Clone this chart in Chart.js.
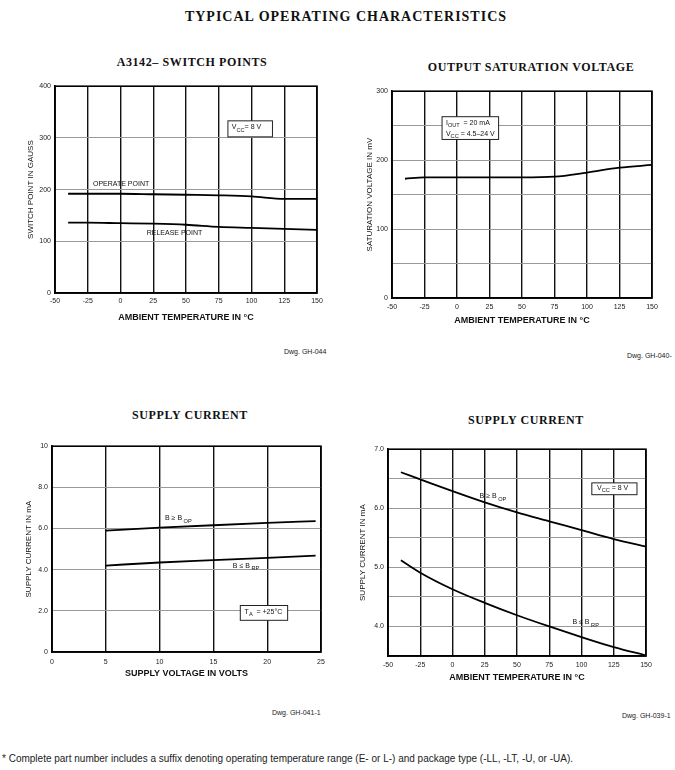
<!DOCTYPE html>
<html>
<head>
<meta charset="utf-8">
<script src="https://cdn.jsdelivr.net/npm/chart.js@4.4.0/dist/chart.umd.min.js"></script>
<style>
body { margin: 0; background: #fff; width: 675px; height: 770px; position: relative; overflow: hidden; font-family: 'Liberation Sans', Arial, sans-serif; }
.t { position: absolute; white-space: nowrap; color: #111; }
.h { font: bold 12px 'Liberation Serif', 'Times New Roman', serif; text-align: center; width: 300px; line-height: 14px; letter-spacing: 0.6px; }
.dwg { font: 7px 'Liberation Sans', Arial, sans-serif; color: #222; }
canvas { position: absolute; }
</style>
</head>
<body>
<div class="t" style="left:0;width:692px;top:9px;text-align:center;font:bold 14px 'Liberation Serif',serif;letter-spacing:1px;line-height:16px">TYPICAL OPERATING CHARACTERISTICS</div>

<div class="t h" style="left:42px;top:55px">A3142– SWITCH POINTS</div>
<div class="t h" style="left:381px;top:60px">OUTPUT SATURATION VOLTAGE</div>
<div class="t h" style="left:40px;top:408px">SUPPLY CURRENT</div>
<div class="t h" style="left:376px;top:413px">SUPPLY CURRENT</div>

<canvas id="c1" width="330" height="252" style="left:0;top:78px"></canvas>
<canvas id="c2" width="330" height="252" style="left:340px;top:83px"></canvas>
<canvas id="c3" width="335" height="252" style="left:0;top:438px"></canvas>
<canvas id="c4" width="320" height="252" style="left:340px;top:441px"></canvas>

<div class="t dwg" style="left:284px;top:348px">Dwg. GH-044</div>
<div class="t dwg" style="left:627px;top:352px">Dwg. GH-040-</div>
<div class="t dwg" style="left:272px;top:709px">Dwg. GH-041-1</div>
<div class="t dwg" style="left:622px;top:712px">Dwg. GH-039-1</div>

<div class="t" style="left:2px;top:753px;font-size:10px;color:#222">* Complete part number includes a suffix denoting operating temperature range (E- or L-) and package type (-LL, -LT, -U, or -UA).</div>

<script>
// Datos leidos de la hoja de datos
// Switch points vs temperatura
const tempSwitch = [-40, -25, 0, 25, 50, 75, 100, 125, 150];
const operatePoint = [192, 192, 192, 191, 190, 189, 187, 182, 182];
const releasePoint = [136, 136, 135, 134, 132, 128, 126, 124, 122];

// Tension de saturacion vs temperatura
const tempSat = [-40, -25, 0, 25, 50, 75, 100, 125, 150];
const satVoltage = [173, 175, 175, 175, 175, 176, 182, 189, 193];

// Corriente vs tension de alimentacion
const supplyVolts = [5, 10, 15, 20, 24.5];
const currentOpVolts = [5.9, 6.04, 6.16, 6.27, 6.36];
const currentRpVolts = [4.2, 4.35, 4.46, 4.57, 4.68];

// Corriente vs temperatura
const tempCurrent = [-40, -25, 0, 25, 50, 75, 100, 125, 150];
const currentOpTemp = [6.61, 6.49, 6.29, 6.1, 5.93, 5.78, 5.63, 5.48, 5.35];
const currentRpTemp = [5.12, 4.91, 4.63, 4.4, 4.19, 4.0, 3.82, 3.65, 3.51];

const TICK_FONT = { family: "'Liberation Sans', Arial, sans-serif", size: 7 };
const TITLE_FONT = { family: "'Liberation Sans', Arial, sans-serif", size: 9, weight: 'bold' };

// Dibuja texto con subindices: partes = [[texto, esSub], ...]
function drawRich(ctx, parts, x, y, size) {
    let cx = x;
    parts.forEach(function (p) {
        const s = p[1] ? size * 0.8 : size;
        ctx.font = s + "px 'Liberation Sans', Arial, sans-serif";
        ctx.fillText(p[0], cx, y + (p[1] ? size * 0.4 : 0));
        cx += ctx.measureText(p[0]).width;
    });
    return cx - x;
}

// Plugin para marco, etiquetas y cajas
function notesPlugin(notes) {
    return {
        id: 'notes',
        afterDraw(chart) {
            const ctx = chart.ctx;
            const a = chart.chartArea;
            const xs = chart.scales.x, ys = chart.scales.y;
            ctx.save();
            ctx.strokeStyle = '#000';
            ctx.lineWidth = 1.6;
            ctx.strokeRect(a.left, a.top, a.right - a.left, a.bottom - a.top);
            ctx.fillStyle = '#111';
            ctx.textBaseline = 'middle';
            notes.forEach(function (n) {
                if (n.box) {
                    const x0 = xs.getPixelForValue(n.box[0]), x1 = xs.getPixelForValue(n.box[1]);
                    const y0 = ys.getPixelForValue(n.box[2]), y1 = ys.getPixelForValue(n.box[3]);
                    ctx.fillStyle = '#fff';
                    ctx.fillRect(x0, y0, x1 - x0, y1 - y0);
                    ctx.strokeStyle = '#222';
                    ctx.lineWidth = 1;
                    ctx.strokeRect(x0, y0, x1 - x0, y1 - y0);
                    ctx.fillStyle = '#111';
                }
                n.lines.forEach(function (l) {
                    drawRich(ctx, l.parts, xs.getPixelForValue(l.x), ys.getPixelForValue(l.y), 7);
                });
            });
            ctx.restore();
        }
    };
}

function serie(xv, yv) {
    return {
        data: xv.map((x, i) => ({ x: x, y: yv[i] })),
        borderColor: '#000',
        borderWidth: 1.8,
        pointRadius: 0,
        cubicInterpolationMode: 'monotone',
        fill: false
    };
}

function crearGrafico(id, o) {
    return new Chart(document.getElementById(id), {
        type: 'line',
        data: { datasets: o.series },
        options: {
            responsive: false,
            animation: false,
            events: [],
            layout: { padding: { top: o.padTop, right: o.padRight, bottom: 0, left: 0 } },
            plugins: { legend: { display: false }, tooltip: { enabled: false } },
            scales: {
                x: {
                    type: 'linear',
                    min: o.xMin, max: o.xMax,
                    afterFit: s => { s.height = o.xh; },
                    grid: { color: '#111', lineWidth: 1.4, drawTicks: false },
                    border: { color: '#000', width: 1.6 },
                    ticks: { stepSize: o.xStep, autoSkip: false, maxRotation: 0, padding: o.xTickPad, color: '#222', font: TICK_FONT },
                    title: { display: true, text: o.xTitle, color: '#111', font: TITLE_FONT, padding: { top: 0, bottom: o.xTitlePad } }
                },
                y: {
                    min: o.yMin, max: o.yMax,
                    afterFit: s => { s.width = o.yw; },
                    grid: { color: '#999', lineWidth: 1, drawTicks: false },
                    border: { color: '#000', width: 1.6 },
                    ticks: { stepSize: o.yStep, autoSkip: false, padding: 4, color: '#222', font: TICK_FONT, callback: o.yLabel },
                    title: { display: true, text: o.yTitle, color: '#111', font: { family: TICK_FONT.family, size: 8 }, padding: { top: o.yTitlePad, bottom: 0 } }
                }
            }
        },
        plugins: [notesPlugin(o.notes)]
    });
}

crearGrafico('c1', {
    series: [serie(tempSwitch, operatePoint), serie(tempSwitch, releasePoint)],
    xMin: -50, xMax: 150, xStep: 25, yMin: 0, yMax: 400, yStep: 100,
    yLabel: v => v,
    padTop: 6, padRight: 13, xh: 37, yw: 55, xTickPad: 4, xTitlePad: 7, yTitlePad: 26,
    xTitle: 'AMBIENT TEMPERATURE IN °C', yTitle: 'SWITCH POINT IN GAUSS',
    notes: [
        { lines: [{ x: -21, y: 211, parts: [['OPERATE POINT', 0]] }] },
        { lines: [{ x: 20, y: 115, parts: [['RELEASE POINT', 0]] }] },
        { box: [82, 116, 333, 302], lines: [{ x: 85, y: 320, parts: [['V', 0], ['CC', 1], ['= 8 V', 0]] }] }
    ]
});

crearGrafico('c2', {
    series: [serie(tempSat, satVoltage)],
    xMin: -50, xMax: 150, xStep: 25, yMin: 0, yMax: 300, yStep: 50,
    yLabel: v => (v % 100 === 0 ? v : ''),
    padTop: 6, padRight: 18, xh: 37, yw: 52, xTickPad: 5, xTitlePad: 9, yTitlePad: 25,
    xTitle: 'AMBIENT TEMPERATURE IN °C', yTitle: 'SATURATION VOLTAGE IN mV',
    notes: [
        { box: [-11.5, 32, 263, 230], lines: [
            { x: -8.5, y: 254, parts: [['I', 0], ['OUT', 1], ['  = 20 mA', 0]] },
            { x: -8.5, y: 238, parts: [['V', 0], ['CC', 1], [' = 4.5–24 V', 0]] }
        ] }
    ]
});

crearGrafico('c3', {
    series: [serie(supplyVolts, currentOpVolts), serie(supplyVolts, currentRpVolts)],
    xMin: 0, xMax: 25, xStep: 5, yMin: 0, yMax: 10, yStep: 2,
    yLabel: v => (v === 0 ? '0' : v === 10 ? '10' : v.toFixed(1)),
    padTop: 6, padRight: 14, xh: 38, yw: 52, xTickPad: 6, xTitlePad: 11, yTitlePad: 24,
    xTitle: 'SUPPLY VOLTAGE IN VOLTS', yTitle: 'SUPPLY CURRENT IN mA',
    notes: [
        { lines: [{ x: 10.5, y: 6.5, parts: [['B ≥ B', 0], [' OP', 1]] }] },
        { lines: [{ x: 16.8, y: 4.18, parts: [['B ≤ B', 0], [' RP', 1]] }] },
        { box: [17.5, 21.9, 2.26, 1.54], lines: [{ x: 17.9, y: 1.95, parts: [['T', 0], ['A', 1], ['  = +25°C', 0]] }] }
    ]
});

crearGrafico('c4', {
    series: [serie(tempCurrent, currentOpTemp), serie(tempCurrent, currentRpTemp)],
    xMin: -50, xMax: 150, xStep: 25, yMin: 3.5, yMax: 7, yStep: 0.5,
    yLabel: v => (Number.isInteger(v) ? v.toFixed(1) : ''),
    padTop: 6, padRight: 14, xh: 37, yw: 48, xTickPad: 5, xTitlePad: 10, yTitlePad: 18,
    xTitle: 'AMBIENT TEMPERATURE IN °C', yTitle: 'SUPPLY CURRENT IN mA',
    notes: [
        { lines: [{ x: 21, y: 6.2, parts: [['B ≥ B', 0], [' OP', 1]] }] },
        { lines: [{ x: 93, y: 4.07, parts: [['B ≤ B', 0], [' RP', 1]] }] },
        { box: [108, 143, 6.43, 6.23], lines: [{ x: 112, y: 6.35, parts: [['V', 0], ['CC', 1], [' = 8 V', 0]] }] }
    ]
});
</script>
</body>
</html>
